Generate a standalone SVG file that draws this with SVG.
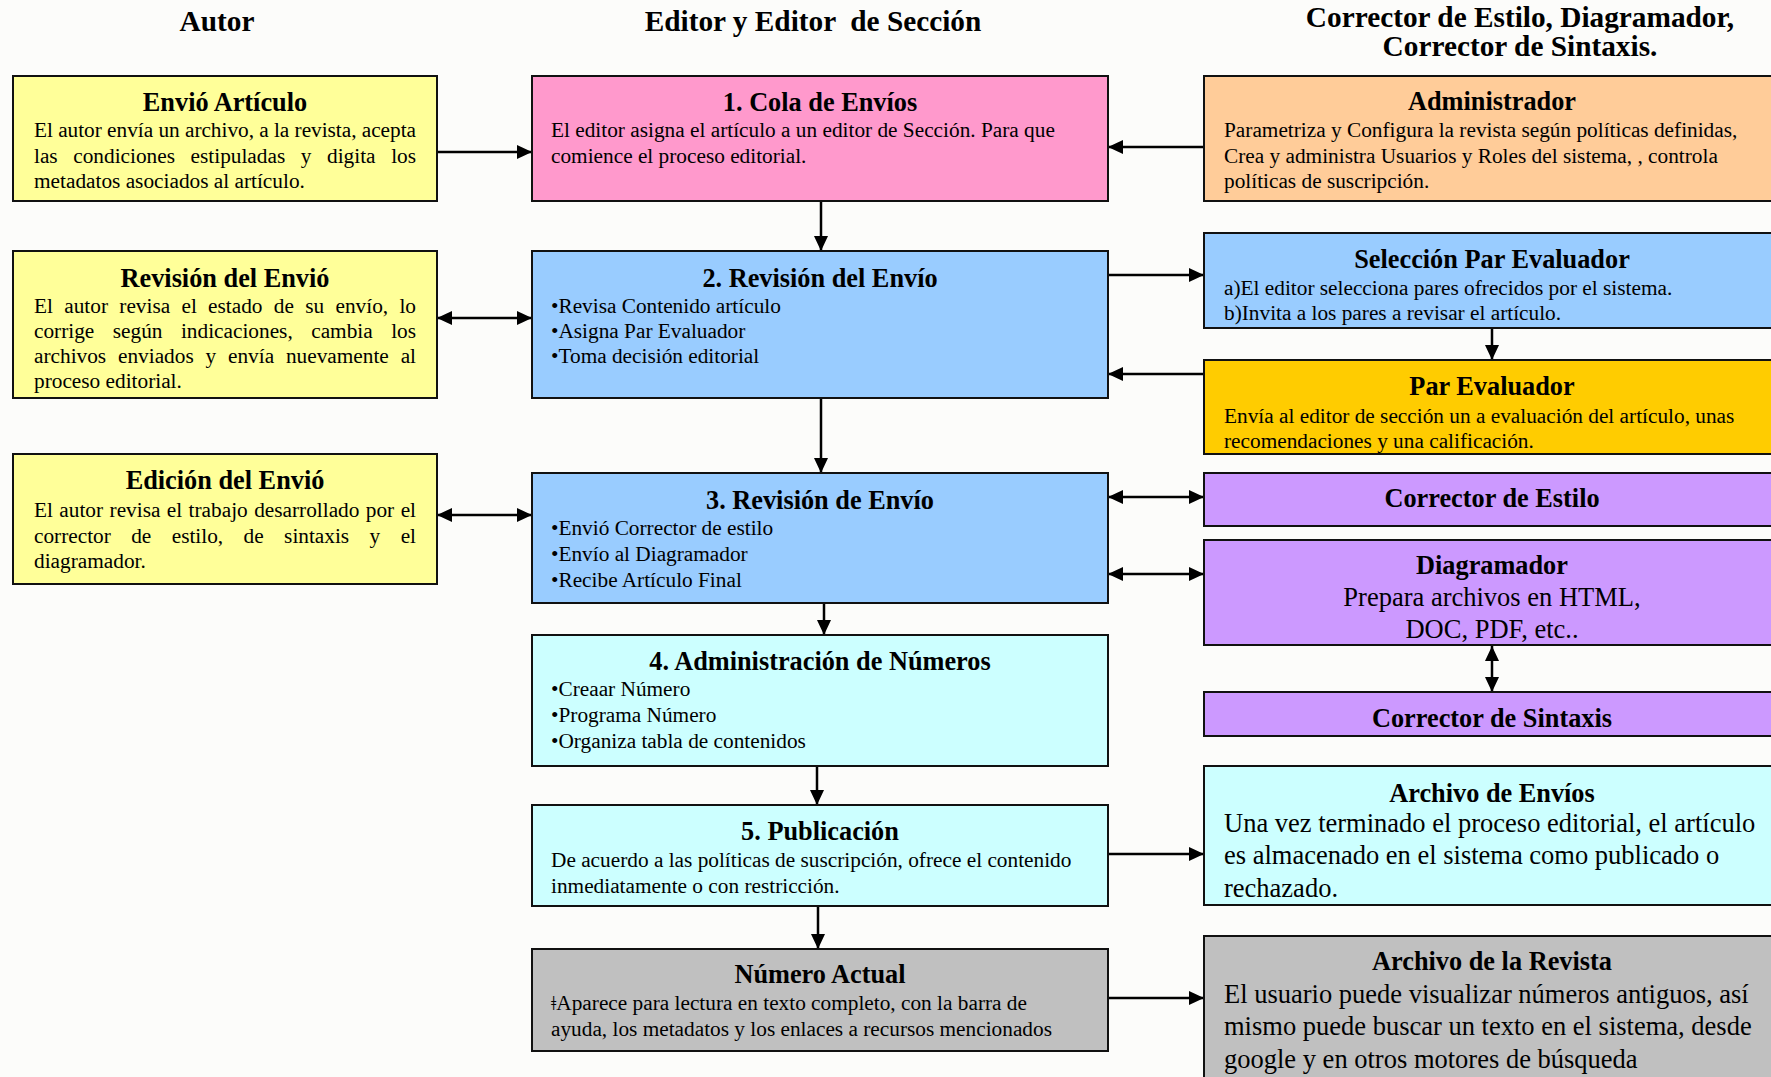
<svg xmlns="http://www.w3.org/2000/svg" width="1771" height="1077" viewBox="0 0 1771 1077">
<defs>
<style>
text{font-family:"Liberation Serif","Times New Roman",serif;fill:#000}
.hd{font-size:29.3px;font-weight:bold;text-anchor:middle;white-space:pre}
.t{font-size:26.3px;font-weight:bold;text-anchor:middle}
.b{font-size:21.3px}
.L{font-size:26.5px}
.c{text-anchor:middle}
.box{stroke:#111;stroke-width:2}
.yel{fill:#ffff99}.pink{fill:#ff99cc}.blue{fill:#99ccff}.org{fill:#ffcc99}.gold{fill:#ffcc00}.pur{fill:#cc99ff}.cyan{fill:#ccffff}.gray{fill:#c0c0c0}
.cn{stroke:#000;stroke-width:2.5;fill:none}
.one{marker-end:url(#ah)}
.two{marker-end:url(#ah);marker-start:url(#ah)}
</style>
<marker id="ah" markerUnits="userSpaceOnUse" markerWidth="15" markerHeight="14" refX="15" refY="7" orient="auto-start-reverse" viewBox="0 0 15 14">
<path d="M0,0 L15,7 L0,14 Z" fill="#000"/>
</marker>
</defs>
<rect x="0" y="0" width="1771" height="1077" fill="#fcfcfa"/>

<g id="headers">
<text class="hd" x="217" y="31">Autor</text>
<text class="hd" x="813" y="31">Editor y Editor  de Sección</text>
<text class="hd"><tspan x="1520" y="27">Corrector de Estilo, Diagramador,</tspan><tspan x="1520" y="56">Corrector de Sintaxis.</tspan></text>
</g>

<g id="connectors">
<path class="cn one" d="M437,152 H532"/>
<path class="cn one" d="M1204,147 H1108"/>
<path class="cn one" d="M821,201 V251"/>
<path class="cn two" d="M437,318 H532"/>
<path class="cn one" d="M1108,275 H1204"/>
<path class="cn one" d="M1492,328 V360"/>
<path class="cn one" d="M1204,374 H1108"/>
<path class="cn one" d="M821,398 V473"/>
<path class="cn two" d="M437,515 H532"/>
<path class="cn two" d="M1108,497 H1204"/>
<path class="cn two" d="M1108,574 H1204"/>
<path class="cn two" d="M1492,646 V692"/>
<path class="cn one" d="M824,603 V635"/>
<path class="cn one" d="M817,766 V805"/>
<path class="cn one" d="M1108,854 H1204"/>
<path class="cn one" d="M818,906 V949"/>
<path class="cn one" d="M1108,998 H1204"/>
</g>

<g id="envio-articulo">
<rect class="box yel" x="13" y="76" width="424" height="125"/>
<text class="t" x="225" y="111">Envió Artículo</text>
<text class="b" x="34" y="137" textLength="382" lengthAdjust="spacing">El autor envía un archivo, a la revista, acepta</text>
<text class="b" x="34" y="163" word-spacing="10.3" textLength="382" lengthAdjust="spacing">las condiciones estipuladas y digita los</text>
<text class="b" x="34" y="188">metadatos asociados al artículo.</text>
</g>

<g id="revision-del-envio-autor">
<rect class="box yel" x="13" y="251" width="424" height="147"/>
<text class="t" x="225" y="287">Revisión del Envió</text>
<text class="b" x="34" y="313" word-spacing="6" textLength="382" lengthAdjust="spacing">El autor revisa el estado de su envío, lo</text>
<text class="b" x="34" y="338" word-spacing="13.1" textLength="382" lengthAdjust="spacing">corrige según indicaciones, cambia los</text>
<text class="b" x="34" y="363" word-spacing="6.5" textLength="382" lengthAdjust="spacing">archivos enviados y envía nuevamente al</text>
<text class="b" x="34" y="388">proceso editorial.</text>
</g>

<g id="edicion-del-envio">
<rect class="box yel" x="13" y="454" width="424" height="130"/>
<text class="t" x="225" y="489">Edición del Envió</text>
<text class="b" x="34" y="517" word-spacing="1.1" textLength="382" lengthAdjust="spacing">El autor revisa el trabajo desarrollado por el</text>
<text class="b" x="34" y="543" word-spacing="15.1" textLength="382" lengthAdjust="spacing">corrector de estilo, de sintaxis y el</text>
<text class="b" x="34" y="568">diagramador.</text>
</g>

<g id="cola-de-envios">
<rect class="box pink" x="532" y="76" width="576" height="125"/>
<text class="t" x="820" y="111">1. Cola de Envíos</text>
<text class="b" x="551" y="137">El editor asigna el artículo a un editor de Sección. Para que</text>
<text class="b" x="551" y="163">comience el proceso editorial.</text>
</g>

<g id="revision-del-envio">
<rect class="box blue" x="532" y="251" width="576" height="147"/>
<text class="t" x="820" y="287">2. Revisión del Envío</text>
<text class="b" x="551" y="313">•Revisa Contenido artículo</text>
<text class="b" x="551" y="338">•Asigna Par Evaluador</text>
<text class="b" x="551" y="363">•Toma decisión editorial</text>
</g>

<g id="revision-de-envio">
<rect class="box blue" x="532" y="473" width="576" height="130"/>
<text class="t" x="820" y="509">3. Revisión de Envío</text>
<text class="b" x="551" y="535">•Envió Corrector de estilo</text>
<text class="b" x="551" y="561">•Envío al Diagramador</text>
<text class="b" x="551" y="587">•Recibe Artículo Final</text>
</g>

<g id="administracion-de-numeros">
<rect class="box cyan" x="532" y="635" width="576" height="131"/>
<text class="t" x="820" y="670">4. Administración de Números</text>
<text class="b" x="551" y="696">•Creaar Número</text>
<text class="b" x="551" y="722">•Programa Número</text>
<text class="b" x="551" y="748">•Organiza tabla de contenidos</text>
</g>

<g id="publicacion">
<rect class="box cyan" x="532" y="805" width="576" height="101"/>
<text class="t" x="820" y="840">5. Publicación</text>
<text class="b" x="551" y="867">De acuerdo a las políticas de suscripción, ofrece el contenido</text>
<text class="b" x="551" y="893">inmediatamente o con restricción.</text>
</g>

<g id="numero-actual">
<rect class="box gray" x="532" y="949" width="576" height="102"/>
<text class="t" x="820" y="983">Número Actual</text>
<text class="b" x="551" y="1010">ǂAparece para lectura en texto completo, con la barra de</text>
<text class="b" x="551" y="1036">ayuda, los metadatos y los enlaces a recursos mencionados</text>
</g>

<g id="administrador">
<rect class="box org" x="1204" y="76" width="580" height="125"/>
<text class="t" x="1492" y="110">Administrador</text>
<text class="b" x="1224" y="137">Parametriza y Configura la revista según políticas definidas,</text>
<text class="b" x="1224" y="163">Crea y administra Usuarios y Roles del sistema, , controla</text>
<text class="b" x="1224" y="188">políticas de suscripción.</text>
</g>

<g id="seleccion-par-evaluador">
<rect class="box blue" x="1204" y="233" width="580" height="95"/>
<text class="t" x="1492" y="268">Selección Par Evaluador</text>
<text class="b" x="1224" y="295">a)El editor selecciona pares ofrecidos por el sistema.</text>
<text class="b" x="1224" y="320">b)Invita a los pares a revisar el artículo.</text>
</g>

<g id="par-evaluador">
<rect class="box gold" x="1204" y="360" width="580" height="94"/>
<text class="t" x="1492" y="395">Par Evaluador</text>
<text class="b" x="1224" y="423">Envía al editor de sección un a evaluación del artículo, unas</text>
<text class="b" x="1224" y="448">recomendaciones y una calificación.</text>
</g>

<g id="corrector-de-estilo">
<rect class="box pur" x="1204" y="473" width="580" height="53"/>
<text class="t" x="1492" y="507">Corrector de Estilo</text>
</g>

<g id="diagramador">
<rect class="box pur" x="1204" y="540" width="580" height="105"/>
<text class="t" x="1492" y="574">Diagramador</text>
<text class="L c" x="1492" y="606">Prepara archivos en HTML,</text>
<text class="L c" x="1492" y="638">DOC, PDF, etc..</text>
</g>

<g id="corrector-de-sintaxis">
<rect class="box pur" x="1204" y="692" width="580" height="44"/>
<text class="t" x="1492" y="727">Corrector de Sintaxis</text>
</g>

<g id="archivo-de-envios">
<rect class="box cyan" x="1204" y="766" width="580" height="139"/>
<text class="t" x="1492" y="802">Archivo de Envíos</text>
<text class="L" x="1224" y="832">Una vez terminado el proceso editorial, el artículo</text>
<text class="L" x="1224" y="864">es almacenado en el sistema como publicado o</text>
<text class="L" x="1224" y="897">rechazado.</text>
</g>

<g id="archivo-de-la-revista">
<rect class="box gray" x="1204" y="936" width="580" height="150"/>
<text class="t" x="1492" y="970">Archivo de la Revista</text>
<text class="L" x="1224" y="1003">El usuario puede visualizar números antiguos, así</text>
<text class="L" x="1224" y="1035">mismo puede buscar un texto en el sistema, desde</text>
<text class="L" x="1224" y="1068">google y en otros motores de búsqueda</text>
</g>
</svg>
